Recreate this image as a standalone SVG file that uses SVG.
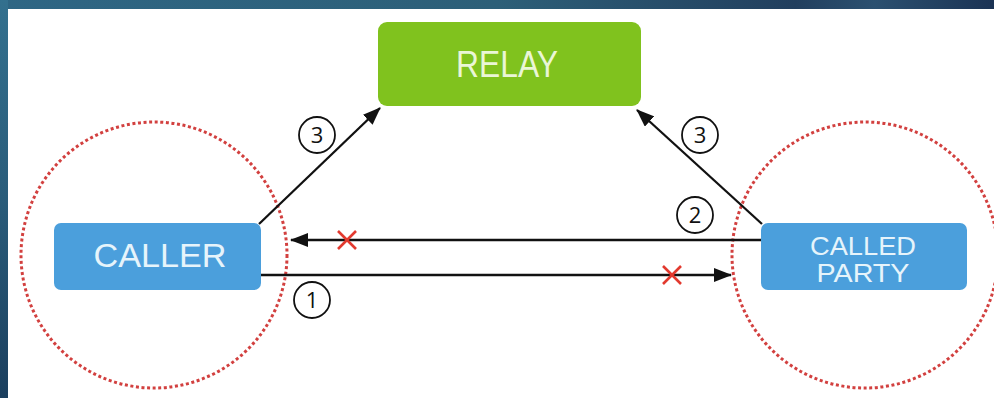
<svg xmlns="http://www.w3.org/2000/svg" width="994" height="398" viewBox="0 0 994 398">
  <defs>
    <linearGradient id="bgTop" x1="0" y1="0" x2="1" y2="0">
      <stop offset="0" stop-color="#2e6684"/>
      <stop offset="0.5" stop-color="#2d5f78"/>
      <stop offset="0.8" stop-color="#223f5e"/>
      <stop offset="0.88" stop-color="#2b5070"/>
      <stop offset="1" stop-color="#1b3354"/>
    </linearGradient>
    <linearGradient id="bgLeft" x1="0" y1="0" x2="0" y2="1">
      <stop offset="0" stop-color="#33708e"/>
      <stop offset="0.5" stop-color="#2a5c7a"/>
      <stop offset="1" stop-color="#1b3f5e"/>
    </linearGradient>
    <marker id="arrow" viewBox="0 0 18 14" refX="17" refY="7" markerWidth="18" markerHeight="14" markerUnits="userSpaceOnUse" orient="auto">
      <path d="M0,0 L18,7 L0,14 z" fill="#111"/>
    </marker>
    <style>
      .zone { fill: none; stroke: #d2403f; stroke-width: 3; stroke-dasharray: 3 2.6; }
      .box-blue { fill: #4b9fdc; }
      .box-green { fill: #80c21e; }
      .lbl { font-family: "Liberation Sans", Arial, sans-serif; fill: #e6f4fb; text-anchor: middle; }
      .lbl-g { font-family: "Liberation Sans", Arial, sans-serif; fill: #eaf6d6; text-anchor: middle; }
      .conn { stroke: #111; stroke-width: 2.3; fill: none; }
      .num circle { fill: #fff; stroke: #111; stroke-width: 1.8; }
      .num text { font-family: "Open Sans", "Liberation Sans", Arial, sans-serif; font-size: 22px; fill: #111; text-anchor: middle; }
      .xmark { stroke: #e2392e; stroke-width: 2.6; fill: none; }
    </style>
  </defs>

  <rect x="0" y="0" width="994" height="398" fill="#ffffff"/>
  <rect x="0" y="0" width="994" height="9" fill="url(#bgTop)"/>
  <rect x="0" y="0" width="8" height="398" fill="url(#bgLeft)"/>

  <g id="zones">
    <circle class="zone" cx="154" cy="255" r="133"/>
    <circle class="zone" cx="865" cy="255" r="133"/>
  </g>

  <g id="connectors">
    <line class="conn" x1="259" y1="224" x2="380" y2="108" marker-end="url(#arrow)"/>
    <line class="conn" x1="762" y1="224" x2="637" y2="110" marker-end="url(#arrow)"/>
    <line class="conn" x1="761" y1="240" x2="291" y2="240" marker-end="url(#arrow)"/>
    <line class="conn" x1="261" y1="275" x2="731" y2="275" marker-end="url(#arrow)"/>
    <path class="xmark" d="M338,231 L356,249 M356,231 L338,249"/>
    <path class="xmark" d="M663,266 L681,284 M681,266 L663,284"/>
    <g class="num">
      <circle cx="317" cy="135" r="18"/>
      <text x="317" y="143">3</text>
      <circle cx="700" cy="135" r="18"/>
      <text x="700" y="143">3</text>
      <circle cx="695" cy="215" r="18"/>
      <text x="695" y="223">2</text>
      <circle cx="312" cy="300" r="18"/>
      <text x="312" y="308">1</text>
    </g>
  </g>

  <g id="relay">
    <rect class="box-green" x="378" y="22" width="263" height="84" rx="9"/>
    <text class="lbl-g" x="507" y="77" font-size="36" textLength="102" lengthAdjust="spacingAndGlyphs">RELAY</text>
  </g>

  <g id="caller">
    <rect class="box-blue" x="54" y="223" width="207" height="67" rx="7"/>
    <text class="lbl" x="160" y="267" font-size="33" textLength="133" lengthAdjust="spacingAndGlyphs">CALLER</text>
  </g>

  <g id="called-party">
    <rect class="box-blue" x="761" y="223" width="206" height="67" rx="7"/>
    <text class="lbl" x="863" y="255" font-size="25" textLength="106" lengthAdjust="spacingAndGlyphs">CALLED</text>
    <text class="lbl" x="863" y="282" font-size="25" textLength="93" lengthAdjust="spacingAndGlyphs">PARTY</text>
  </g>
</svg>
